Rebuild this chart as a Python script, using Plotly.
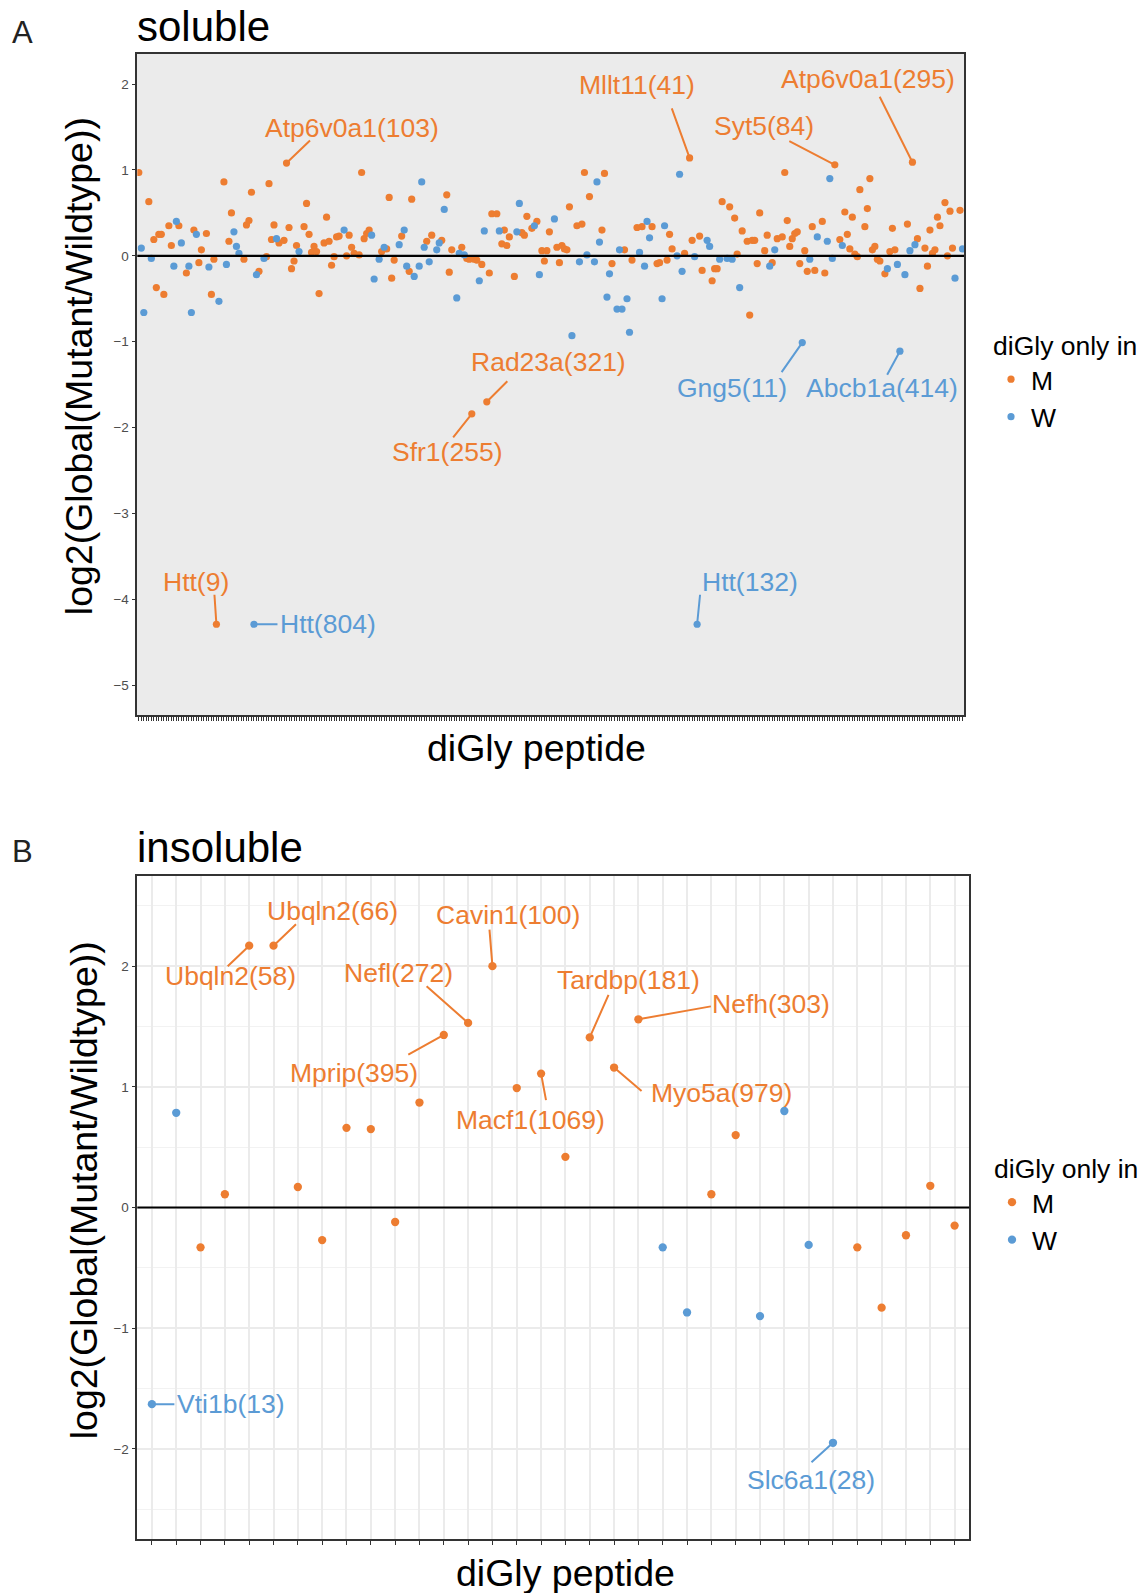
import plotly.graph_objects as go

# Reference-pixel space is 1146x1593; the page body adds an 8px margin,
# so the figure itself is 8px smaller and all pixel positions are shifted.
W, H = 1146, 1593
OFF = 8
FW, FH = W - OFF, H - OFF
ORANGE = "#ED7D31"
BLUE = "#5B9BD5"
FONT = "Liberation Sans, Arial, Helvetica, sans-serif"
COLORS = {"M": ORANGE, "W": BLUE}

# ---------------- data: soluble (panel A) ----------------
n_soluble = 330
soluble_M_rank = [
    1, 5, 7, 8, 9, 10, 11, 13, 14, 17, 20, 23, 25, 26, 28, 30, 31, 32, 35, 37,
    38, 43, 44, 45, 46, 49, 52, 53, 54, 55, 57, 59, 60, 61, 62, 63, 64, 67, 68, 69,
    70, 71, 72, 73, 75, 76, 77, 78, 79, 80, 81, 84, 85, 86, 87, 89, 90, 91, 92, 93,
    98, 100, 101, 102, 103, 106, 109, 110, 116, 118, 122, 124, 125, 126, 130, 132, 133, 134, 135, 136,
    138, 140, 141, 142, 144, 146, 147, 148, 149, 151, 154, 155, 156, 158, 160, 162, 163, 164, 165, 168,
    169, 170, 171, 172, 173, 176, 178, 179, 181, 186, 187, 190, 195, 198, 200, 202, 206, 208, 209, 212,
    213, 214, 219, 221, 222, 225, 226, 230, 231, 232, 234, 237, 239, 240, 242, 244, 245, 246, 247, 248,
    249, 251, 252, 254, 256, 258, 259, 260, 261, 262, 263, 264, 265, 267, 268, 270, 271, 274, 275, 279,
    281, 283, 284, 285, 286, 287, 288, 289, 291, 292, 293, 294, 295, 296, 297, 299, 301, 302, 303, 308,
    310, 312, 313, 315, 316, 317, 318, 319, 320, 321, 323, 324, 325, 326, 329,
]
soluble_M_log2 = [
    0.97, 0.63, 0.19, -0.37, 0.25, 0.25, -0.45, 0.35, 0.12, 0.35, -0.20, 0.30, -0.08, 0.07, 0.26, -0.45, -0.04, -4.29, 0.86, 0.17,
    0.50, -0.04, 0.36, 0.41, 0.74, -0.18, -0.01, 0.84, 0.19, 0.36, 0.15, 0.18, 1.08, 0.33, -0.15, -0.06, 0.12, 0.34, 0.61, 0.25,
    0.04, 0.11, 0.05, -0.44, 0.15, 0.45, 0.17, -0.11, -0.01, 0.22, 0.23, 0.00, 0.24, 0.10, 0.03, 0.01, 0.97, 0.20, 0.26, 0.30,
    0.05, 0.08, 0.68, -0.26, -0.05, 0.23, -0.18, 0.66, 0.17, 0.24, 0.18, 0.71, -0.19, 0.07, 0.10, -0.03, -0.04, -1.84, -0.04, -0.05,
    -0.10, -1.70, -0.20, 0.49, 0.49, 0.14, 0.30, 0.12, 0.22, -0.24, 0.27, 0.24, 0.46, 0.32, 0.40, 0.06, -0.06, 0.06, 0.28, 0.10,
    -0.08, 0.12, 0.08, 0.07, 0.57, 0.35, 0.37, 0.97, 0.69, 0.30, 0.96, -0.09, 0.07, -0.05, 0.33, 0.34, 0.34, -0.09, -0.08, -0.05,
    0.25, 0.08, 0.03, 1.14, 0.18, 0.23, -0.17, -0.29, -0.15, -0.15, 0.63, 0.57, 0.44, 0.02, 0.29, 0.17, -0.69, 0.18, 0.18, -0.09,
    0.50, 0.06, 0.24, -0.08, 0.20, 0.22, 0.97, 0.41, 0.11, 0.20, 0.26, 0.28, -0.09, 0.06, -0.18, 0.34, -0.17, 0.40, -0.20, 1.06,
    0.19, 0.51, 0.25, 0.08, 0.45, 0.02, -0.01, 0.77, 0.34, 0.55, 0.90, 0.07, 0.11, -0.04, -0.06, -0.21, 0.05, 0.32, 0.07, 0.37,
    1.09, 0.20, -0.38, 0.09, -0.12, 0.30, 0.03, 0.07, 0.45, 0.35, 0.62, 0.00, 0.52, 0.09, 0.53,
]
soluble_W_rank = [
    2, 3, 6, 15, 16, 18, 21, 22, 24, 29, 33, 36, 39, 40, 41, 47, 48, 51, 56, 65,
    83, 94, 95, 97, 99, 105, 107, 108, 111, 113, 114, 115, 117, 120, 121, 123, 128, 129, 131, 137,
    139, 145, 152, 153, 159, 161, 167, 174, 177, 180, 183, 184, 185, 188, 189, 192, 193, 194, 196, 197,
    201, 203, 204, 205, 210, 211, 216, 217, 218, 223, 224, 228, 229, 233, 236, 238, 241, 253, 255, 266,
    269, 272, 276, 277, 278, 282, 300, 304, 305, 307, 309, 311, 327, 330,
]
soluble_W_log2 = [
    0.09, -0.66, -0.03, -0.12, 0.40, 0.15, -0.12, -0.66, 0.25, -0.13, -0.53, -0.10, 0.28, 0.11, 0.03, -4.29, -0.22, -0.03, 0.20, 0.05,
    0.30, 0.24, -0.27, -0.04, 0.10, 0.13, 0.30, -0.12, -0.24, -0.12, 0.86, 0.10, -0.07, 0.07, 0.15, 0.54, -0.49, 0.03, 0.01, -0.29,
    0.29, 0.29, 0.28, 0.61, 0.35, -0.22, 0.43, -0.93, -0.07, 0.01, -0.07, 0.86, 0.16, -0.48, -0.21, -0.62, 0.07, -0.62, -0.50, -0.89,
    0.04, -0.12, 0.40, 0.21, -0.50, 0.35, 0.00, 0.95, -0.18, -0.01, -4.29, 0.18, 0.11, -0.04, -0.03, -0.04, -0.37, -0.12, 0.07, -1.01,
    -0.04, 0.22, 0.17, 0.90, -0.03, 0.12, -0.15, -0.10, -1.11, -0.22, 0.06, 0.13, -0.26, 0.08,
]

# labelled soluble peptides
soluble_label_rank = [60, 221, 279, 310, 140, 134, 266, 305, 32, 47, 224]
soluble_label_name = ["Atp6v0a1(103)", "Mllt11(41)", "Syt5(84)", "Atp6v0a1(295)",
                      "Rad23a(321)", "Sfr1(255)", "Gng5(11)", "Abcb1a(414)",
                      "Htt(9)", "Htt(804)", "Htt(132)"]

# ---------------- data: insoluble (panel B) ----------------
insoluble_log2 = [-1.63, 0.785, -0.33, 0.11, 2.17, 2.17, 0.17, -0.27, 0.66, 0.65,
                  -0.12, 0.87, 1.43, 1.53, 2.00, 0.99, 1.11, 0.42, 1.41, 1.16,
                  1.56, -0.33, -0.87, 0.11, 0.60, -0.90, 0.80, -0.31, -1.95, -0.33,
                  -0.83, -0.23, 0.18, -0.15]
insoluble_only_in = ["W", "W", "M", "M", "M", "M", "M", "M", "M", "M",
                     "M", "M", "M", "M", "M", "M", "M", "M", "M", "M",
                     "M", "W", "W", "M", "M", "W", "W", "W", "W", "M",
                     "M", "M", "M", "M"]
insoluble_rank = list(range(1, len(insoluble_log2) + 1))
insoluble_label_rank = [1, 5, 6, 15, 14, 13, 17, 19, 20, 21, 29]
insoluble_label_name = ["Vti1b(13)", "Ubqln2(58)", "Ubqln2(66)", "Cavin1(100)", "Nefl(272)",
                        "Mprip(395)", "Macf1(1069)", "Tardbp(181)", "Myo5a(979)", "Nefh(303)",
                        "Slc6a1(28)"]

# ---------------- label layout (pixel offsets from point) ----------------
# (segment end dx, dy, text centre dx, dy)   dy positive = downwards
soluble_label_offsets = [
    (24, -23, 65, -35), (-18, -50, -53, -73), (-46, -24, -71, -39), (-33, -66, -44, -83),
    (21, -21, 62, -40), (-19, 24, -25, 38), (-21, 30, -70, 45), (-13, 24, -18, 37),
    (-2, -30, -20, -42), (24, 0, 74, 0), (3, -30, 53, -42),
]
insoluble_label_offsets = [
    (23, 0, 79, 0), (-22, 21, -19, 30), (23, -22, 59, -35), (-3, -37, 16, -51),
    (-42, -37, -70, -50), (-36, 20, -90, 38), (5, 27, -11, 46), (19, -43, 39, -57),
    (28, 24, 107, 25), (73, -13, 133, -15), (-22, 20, -22, 37),
]

# ---------------- geometry (reference pixels) ----------------
A_L, A_R, A_T, A_B = 137.3, 964.0, 54.0, 715.3
B_L, B_R, B_T, B_B = 137.3, 969.2, 875.7, 1539.3


def px(x):
    return (x - OFF) / FW


def py(y):
    return 1 - (y - OFF) / FH


def xd(a, b):
    return [px(a), px(b)]


def yd(top, bot):
    return [py(bot), py(top)]


fig = go.Figure()

for grp, ranks, vals in [("M", soluble_M_rank, soluble_M_log2), ("W", soluble_W_rank, soluble_W_log2)]:
    fig.add_trace(go.Scatter(x=ranks, y=vals, mode="markers", name=grp,
                             marker=dict(color=COLORS[grp], size=7.2, line=dict(width=0)),
                             xaxis="x", yaxis="y", legend="legend", showlegend=True))
for grp in ["M", "W"]:
    xs = [r for r, g in zip(insoluble_rank, insoluble_only_in) if g == grp]
    ys = [v for v, g in zip(insoluble_log2, insoluble_only_in) if g == grp]
    fig.add_trace(go.Scatter(x=xs, y=ys, mode="markers", name=grp,
                             marker=dict(color=COLORS[grp], size=8.3, line=dict(width=0)),
                             xaxis="x2", yaxis="y2", legend="legend2", showlegend=True))

axis_common = dict(showline=True, mirror=True, linecolor="#333333", linewidth=1.6,
                   ticks="outside", ticklen=4, tickwidth=1.3, tickcolor="#333333",
                   zeroline=False, showgrid=True, gridcolor="#EBEBEB")

legend_style = dict(title=dict(text="diGly only in", font=dict(size=26.5, family=FONT)),
                    font=dict(size=26.5, family=FONT, color="black"),
                    xanchor="left", yanchor="top", bgcolor="rgba(0,0,0,0)",
                    itemsizing="trace", tracegroupgap=0)

fig.update_layout(
    width=FW, height=FH, margin=dict(l=0, r=0, t=0, b=0),
    paper_bgcolor="white", plot_bgcolor="white",
    font=dict(family=FONT, color="black"),
    xaxis=dict(domain=xd(A_L, A_R), range=[0.4, n_soluble + 0.6], tickmode="linear",
               tick0=1, dtick=1, showticklabels=False, anchor="y", gridwidth=2.6, **axis_common),
    yaxis=dict(domain=yd(A_T, A_B), range=[-5.35, 2.35], tickmode="linear", tick0=0, dtick=1,
               tickfont=dict(size=13.5, color="#4D4D4D"), anchor="x", gridwidth=2,
               minor=dict(dtick=0.5, tick0=0, showgrid=True, gridcolor="#F2F2F2", gridwidth=1, ticks=""),
               **axis_common),
    xaxis2=dict(domain=xd(B_L, B_R), range=[0.4, len(insoluble_log2) + 0.6], tickmode="linear",
                tick0=1, dtick=1, showticklabels=False, anchor="y2", gridwidth=2, **axis_common),
    yaxis2=dict(domain=yd(B_T, B_B), range=[-2.75, 2.75], tickmode="linear", tick0=0, dtick=1,
                tickfont=dict(size=13.5, color="#4D4D4D"), anchor="x2", gridwidth=2,
                minor=dict(dtick=0.5, tick0=0, showgrid=True, gridcolor="#F2F2F2", gridwidth=1, ticks=""),
                **axis_common),
    legend=dict(x=px(991), y=py(321), **legend_style),
    legend2=dict(x=px(992), y=py(1144), **legend_style),
)

# zero lines
for xr, yr in [("x", "y"), ("x2", "y2")]:
    fig.add_shape(type="line", xref=f"{xr} domain", yref=yr, x0=0, x1=1, y0=0, y1=0,
                  line=dict(color="black", width=2.2), layer="above")

annotations = []


def add_labels(lookup, lab_ranks, lab_names, offsets, xr, yr):
    for r, name, (sx, sy, tx, ty) in zip(lab_ranks, lab_names, offsets):
        v, g = lookup[r]
        col = COLORS[g]
        annotations.append(dict(x=r, y=v, xref=xr, yref=yr, text="", showarrow=True,
                                arrowhead=0, arrowwidth=2, arrowcolor=col,
                                ax=sx, ay=sy, axref="pixel", ayref="pixel",
                                font=dict(size=1), borderpad=0))
        annotations.append(dict(x=r, y=v, xref=xr, yref=yr, text=name, showarrow=False,
                                xshift=tx, yshift=-ty, xanchor="center", yanchor="middle",
                                font=dict(size=26.5, color=col, family=FONT)))


sol_lookup = {r: (v, "M") for r, v in zip(soluble_M_rank, soluble_M_log2)}
sol_lookup.update({r: (v, "W") for r, v in zip(soluble_W_rank, soluble_W_log2)})
ins_lookup = {r: (v, g) for r, v, g in zip(insoluble_rank, insoluble_log2, insoluble_only_in)}

add_labels(sol_lookup, soluble_label_rank, soluble_label_name, soluble_label_offsets, "x", "y")
add_labels(ins_lookup, insoluble_label_rank, insoluble_label_name, insoluble_label_offsets, "x2", "y2")


def paper_text(text, x, y, size, color="black", xanchor="center", angle=0):
    annotations.append(dict(text=text, x=px(x), y=py(y), xref="paper", yref="paper",
                            showarrow=False, xanchor=xanchor, yanchor="middle", textangle=angle,
                            font=dict(size=size, color=color, family=FONT)))


paper_text("A", 22.4, 32.5, 31, "#222222")
paper_text("B", 22.4, 851.3, 31, "#222222")
paper_text("soluble", 135, 27, 42, xanchor="left")
paper_text("insoluble", 135, 847, 42, xanchor="left")
paper_text("diGly peptide", 536.4, 748, 37.5)
paper_text("diGly peptide", 565.9, 1573, 37.5)
paper_text("log2(Global(Mutant/Wildtype))", 79.2, 366, 37.5, angle=-90)
paper_text("log2(Global(Mutant/Wildtype))", 84.3, 1190, 37.5, angle=-90)

fig.update_layout(annotations=annotations)
fig.write_html("out.html")
